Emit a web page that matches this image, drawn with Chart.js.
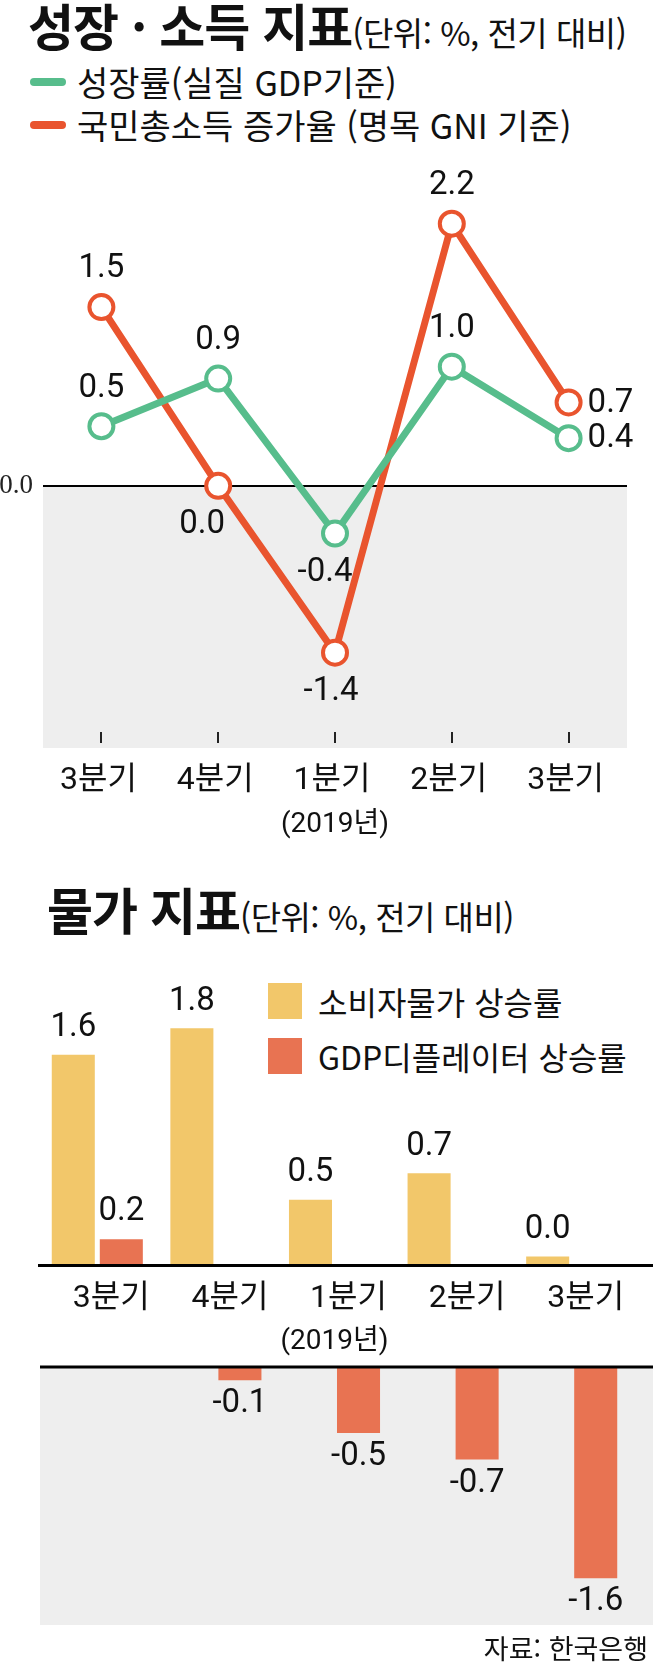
<!DOCTYPE html>
<html lang="ko">
<head>
<meta charset="utf-8">
<script src="https://cdn.jsdelivr.net/npm/chart.js@4.4.1/dist/chart.umd.min.js"></script>
<style>
  html, body { margin: 0; padding: 0; background: #fff; }
  body { width: 653px; height: 1679px; position: relative; overflow: hidden;
         font-family: "Noto Sans CJK KR", sans-serif; color: #111; }
  .title { position: absolute; white-space: nowrap; display: flex; align-items: baseline; line-height: 1; }
  .title b { font-size: 50px; font-weight: 700; letter-spacing: -1px; }
  .title span { font-size: 33px; letter-spacing: -0.5px; }
  .legend { position: absolute; display: flex; align-items: center; white-space: nowrap; line-height: 1; }
  .legend i { display: inline-block; flex: none; }
  .legend i.line { width: 36px; height: 8px; border-radius: 4px; margin-right: 11px; }
  .legend i.box { width: 34px; height: 36px; margin-right: 16px; }
  .top-legend { font-size: 34px; left: 30px; }
  .bar-legend { font-size: 32px; left: 268px; }
  .source { position: absolute; right: 5px; top: 1634px; font-size: 27px; line-height: 1; }
  canvas { position: absolute; }
</style>
</head>
<body>
<div class="title" style="left:28px; top:-1px;"><b>성장 · 소득 지표</b><span>(단위: %, 전기 대비)</span></div>
<div class="legend top-legend" style="top:65px;"><i class="line" style="background:#57bd8c"></i>성장률(실질 GDP기준)</div>
<div class="legend top-legend" style="top:108px;"><i class="line" style="background:#e9542e"></i>국민총소득 증가율 (명목 GNI 기준)</div>

<canvas id="growth-chart" width="663" height="700" style="left:-10px; top:150px;"></canvas>

<div class="title" style="left:47px; top:883px;"><b>물가 지표</b><span>(단위: %, 전기 대비)</span></div>
<div class="legend bar-legend" style="top:983px;"><i class="box" style="background:#f2c76a"></i>소비자물가 상승률</div>
<div class="legend bar-legend" style="top:1038px;"><i class="box" style="background:#e87352"></i>GDP디플레이터 상승률</div>

<canvas id="price-up" width="653" height="390" style="left:0; top:970px;"></canvas>
<canvas id="price-down" width="653" height="300" style="left:0; top:1340px;"></canvas>

<div class="source">자료: 한국은행</div>

<script>
  // data
  const quarters = ["3분기", "4분기", "1분기", "2분기", "3분기"];
  const yearNote = "(2019년)";
  const growthRate = [0.5, 0.9, -0.4, 1.0, 0.4];   // 성장률(실질 GDP기준)
  const gniRate = [1.5, 0.0, -1.4, 2.2, 0.7];      // 국민총소득 증가율 (명목 GNI 기준)
  const cpiRate = [1.6, 1.8, 0.5, 0.7, 0.0];       // 소비자물가 상승률
  const deflatorRate = [0.2, -0.1, -0.5, -0.7, -1.6]; // GDP디플레이터 상승률

  // styles
  const GREEN = "#57bd8c";
  const RED = "#e9542e";
  const YELLOW = "#f2c76a";
  const BAR_RED = "#e87352";
  const GRAY = "#eeeeee";
  const LABEL_FONT = '33px Roboto, "Noto Sans CJK KR"';
  const AXIS_FONT = { family: 'Roboto, "Noto Sans CJK KR"', size: 32, lineHeight: 1.05 };
  const NOTE_FONT = { family: 'Roboto, "Noto Sans CJK KR"', size: 28 };
  const growthLabelPos = ["top", "top", "bottom", "top", "right"];
  const gniLabelPos = ["top", "bottom", "bottom", "top", "right"];
  const growthLabelShift = [0, 0, -10, 0, 0];
  const gniLabelShift = [0, -16, -4, 0, 0];

  Chart.defaults.font.family = 'Roboto, "Noto Sans CJK KR"';
  Chart.defaults.color = "#111";

  function drawText(ctx, text, x, y, align) {
    ctx.save();
    ctx.font = LABEL_FONT;
    ctx.fillStyle = "#111";
    ctx.textAlign = align || "center";
    ctx.textBaseline = "middle";
    ctx.fillText(text, x, y);
    ctx.restore();
  }

  // gray band below zero, small tick marks, point labels
  const growthDecor = {
    id: "growthDecor",
    beforeDraw(chart) {
      const { ctx, chartArea, scales } = chart;
      const y0 = scales.y.getPixelForValue(0);
      ctx.save();
      ctx.fillStyle = GRAY;
      ctx.fillRect(chartArea.left, y0, chartArea.right - chartArea.left, chartArea.bottom - y0);
      ctx.strokeStyle = "#222";
      ctx.lineWidth = 2;
      quarters.forEach((q, i) => {
        const x = Math.round(scales.x.getPixelForValue(i));
        ctx.beginPath();
        ctx.moveTo(x, chartArea.bottom - 16);
        ctx.lineTo(x, chartArea.bottom - 5);
        ctx.stroke();
      });
      ctx.restore();
    },
    afterDatasetsDraw(chart) {
      chart.data.datasets.forEach((ds, i) => {
        chart.getDatasetMeta(i).data.forEach((pt, j) => {
          const text = ds.data[j].toFixed(1);
          const pos = ds.labelPos[j];
          const dx = ds.labelShift[j];
          if (pos === "top") drawText(chart.ctx, text, pt.x + dx, pt.y - 38);
          else if (pos === "bottom") drawText(chart.ctx, text, pt.x + dx, pt.y + 39);
          else drawText(chart.ctx, text, pt.x + 19, pt.y + 1, "left");
        });
      });
    }
  };

  new Chart(document.getElementById("growth-chart"), {
    type: "line",
    data: {
      labels: quarters,
      datasets: [
        {
          label: "성장률(실질 GDP기준)",
          data: growthRate,
          borderColor: GREEN,
          pointBorderColor: GREEN,
          labelPos: growthLabelPos,
          labelShift: growthLabelShift
        },
        {
          label: "국민총소득 증가율 (명목 GNI 기준)",
          data: gniRate,
          borderColor: RED,
          pointBorderColor: RED,
          labelPos: gniLabelPos,
          labelShift: gniLabelShift
        }
      ]
    },
    options: {
      responsive: false,
      animation: false,
      devicePixelRatio: 1,
      layout: { padding: { left: 0, right: 26, top: 32, bottom: 14 } },
      elements: {
        line: { borderWidth: 7, tension: 0, borderCapStyle: "round", borderJoinStyle: "round" },
        point: { radius: 12, borderWidth: 4, backgroundColor: "#fff", hoverRadius: 12 }
      },
      scales: {
        x: {
          offset: true,
          grid: { display: false, drawTicks: false },
          border: { display: false },
          ticks: { font: AXIS_FONT, color: "#111", padding: 16, labelOffset: -3, maxRotation: 0 },
          title: {
            display: true,
            text: yearNote,
            font: { family: NOTE_FONT.family, size: NOTE_FONT.size, lineHeight: 0.8 },
            color: "#111",
            padding: { top: 0, bottom: 0 }
          }
        },
        y: {
          min: -2.2,
          max: 2.55,
          afterBuildTicks: (axis) => { axis.ticks = [{ value: 0 }]; },
          afterFit: (axis) => { axis.width = 53; },
          ticks: {
            font: { family: '"Liberation Serif", serif', size: 27 },
            color: "#222",
            padding: 10,
            callback: (v) => v.toFixed(1)
          },
          grid: { color: "#000", lineWidth: 2, drawTicks: false },
          border: { display: false }
        }
      },
      plugins: { legend: { display: false }, tooltip: { enabled: false } }
    },
    plugins: [growthDecor]
  });

  // price chart: positive part on top, negative part in a separate gray panel below
  function barLabels(sign) {
    return {
      id: "barLabels",
      afterDatasetsDraw(chart) {
        chart.data.datasets.forEach((ds, i) => {
          chart.getDatasetMeta(i).data.forEach((bar, j) => {
            const v = ds.data[j];
            if (v === null) return;
            const top = Math.min(bar.y, bar.base);
            const bottom = Math.max(bar.y, bar.base);
            if (sign > 0) drawText(chart.ctx, v.toFixed(1), bar.x, top - 27);
            else drawText(chart.ctx, v.toFixed(1), bar.x, bottom + 24);
          });
        });
      }
    };
  }

  const upperPanel = {
    id: "upperPanel",
    afterDatasetsDraw(chart) {
      const { ctx, chartArea, scales } = chart;
      const y0 = scales.y.getPixelForValue(0);
      ctx.save();
      ctx.strokeStyle = "#000";
      ctx.lineWidth = 3;
      ctx.beginPath();
      ctx.moveTo(chartArea.left, y0);
      ctx.lineTo(chart.width, y0);
      ctx.stroke();
      ctx.restore();
    }
  };

  const lowerPanel = {
    id: "lowerPanel",
    beforeDraw(chart) {
      const { ctx, chartArea, scales } = chart;
      const y0 = scales.y.getPixelForValue(0);
      ctx.save();
      ctx.fillStyle = GRAY;
      ctx.fillRect(chartArea.left + 2, y0, chart.width - chartArea.left - 2, chartArea.bottom - y0);
      ctx.restore();
    },
    afterDatasetsDraw(chart) {
      const { ctx, chartArea, scales } = chart;
      const y0 = scales.y.getPixelForValue(0);
      ctx.save();
      ctx.strokeStyle = "#000";
      ctx.lineWidth = 3;
      ctx.beginPath();
      ctx.moveTo(chartArea.left + 2, y0);
      ctx.lineTo(chart.width, y0);
      ctx.stroke();
      ctx.restore();
    }
  };

  function barDatasets(sign) {
    const keep = (v) => (sign > 0 ? (v >= 0 ? v : null) : (v < 0 ? v : null));
    return [
      {
        label: "소비자물가 상승률",
        data: cpiRate.map(keep),
        backgroundColor: YELLOW,
        minBarLength: sign > 0 ? 9 : 0,
        clip: 0
      },
      {
        label: "GDP디플레이터 상승률",
        data: deflatorRate.map(keep),
        backgroundColor: BAR_RED,
        clip: 0
      }
    ];
  }

  const barCommon = {
    responsive: false,
    animation: false,
    devicePixelRatio: 1,
    datasets: { bar: { categoryPercentage: 0.81, barPercentage: 0.896, borderWidth: 0 } },
    plugins: { legend: { display: false }, tooltip: { enabled: false } }
  };

  new Chart(document.getElementById("price-up"), {
    type: "bar",
    data: { labels: quarters, datasets: barDatasets(1) },
    options: {
      ...barCommon,
      layout: { padding: { left: 38, right: 22, top: 30, bottom: 10 } },
      scales: {
        x: {
          grid: { display: false, drawTicks: false },
          border: { display: false },
          ticks: { font: AXIS_FONT, color: "#111", padding: 17, labelOffset: 14, maxRotation: 0 },
          title: {
            display: true,
            text: yearNote,
            font: { family: NOTE_FONT.family, size: NOTE_FONT.size, lineHeight: 0.6 },
            color: "#111",
            padding: { top: 0, bottom: 0 }
          }
        },
        y: { display: false, min: 0, max: 2.015 }
      }
    },
    plugins: [upperPanel, barLabels(1)]
  });

  new Chart(document.getElementById("price-down"), {
    type: "bar",
    data: { labels: quarters, datasets: barDatasets(-1) },
    options: {
      ...barCommon,
      layout: { padding: { left: 38, right: 22, top: 27, bottom: 15 } },
      scales: {
        x: { display: false },
        y: { display: false, min: -1.955, max: 0 }
      }
    },
    plugins: [lowerPanel, barLabels(-1)]
  });
</script>
</body>
</html>
